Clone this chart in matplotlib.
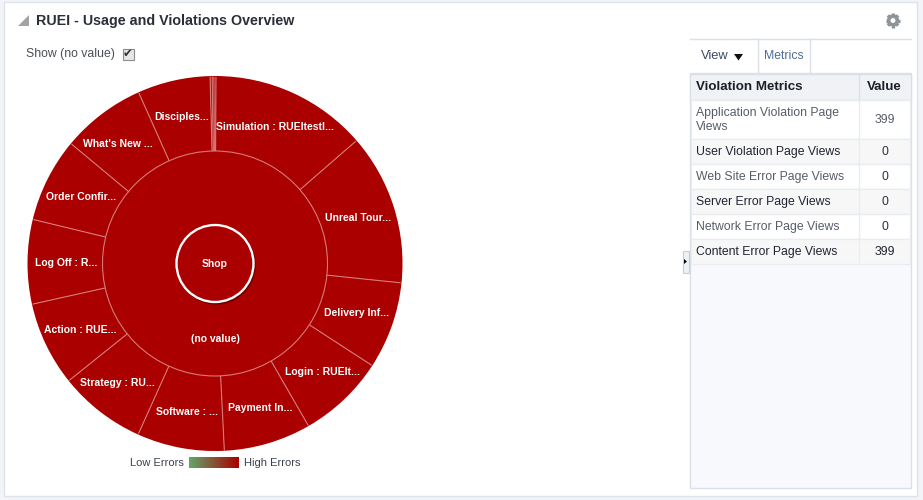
import numpy as np
import matplotlib
matplotlib.use("Agg")
import matplotlib.pyplot as plt
from matplotlib.patches import Rectangle, Polygon, Circle
from matplotlib.colors import LinearSegmentedColormap

plt.rcParams['font.family'] = ['Liberation Sans', 'DejaVu Sans']

# ---- data
pages = ["Simulation : RUEItestl...", "Unreal Tour...", "Delivery Inf...", "Login : RUEIt...",
         "Payment In...", "Software : ...", "Strategy : RU...", "Action : RUE...",
         "Log Off : R...", "Order Confir...", "What's New ...", "Disciples...", "", "", ""]
page_views = [54, 52, 30, 30, 30, 30, 30, 29, 29, 29, 29, 25, 0.7, 0.6, 0.7]
outer_total = "(no value)"
center_label = "Shop"
metric_names = ["Application Violation Page\nViews", "User Violation Page Views",
                "Web Site Error Page Views", "Server Error Page Views",
                "Network Error Page Views", "Content Error Page Views"]
metric_values = [399, 0, 0, 0, 0, 399]
metric_dark = [False, True, False, True, False, True]

# label nudges in pixels (layout only)
nudge_x = [-2, 0.5, 1.5, 5, 3, 0, -6.5, 0, 0, -1, -7, 0, 0, 0, 0]
nudge_y = [-1.5, -1, -1, 0, 1, 1, 1, 1, 0, 0, -1, -2, 0, 0, 0]

RED = "#aa0000"
LINE = "#d67a7a"
W, H = 923, 500
fig = plt.figure(figsize=(W / 100, H / 100), dpi=100, facecolor="#f2f4f7")

# ---- page frame and side panel, in pixel coordinates
ui = fig.add_axes([0, 0, 1, 1], zorder=1)
ui.set_xlim(0, W); ui.set_ylim(H, 0); ui.axis("off")
ui.add_patch(Rectangle((4, 2), 913, 494, fc="white", ec="#dde3ea", lw=1))
ui.add_patch(Rectangle((690, 73), 221, 415, fc="#f7f9fc", ec="#d9e0e8", lw=1))
ui.plot([690, 911], [38.5, 38.5], color="#d9e0e8", lw=1)
for x in (757.5, 809.5):
    ui.plot([x, x], [38.5, 73], color="#d9e0e8", lw=1)

ui.add_patch(Polygon([[18, 25.5], [29, 25.5], [29, 15]], fc="#a3a3a3", ec="none"))
ui.text(36, 20.5, "RUEI - Usage and Violations Overview", fontsize=10.3, fontweight="bold",
        color="#2b2f38", va="center", ha="left")
ui.text(26, 54.5, "Show (no value)", fontsize=8.8, color="#4a4f57", va="center", ha="left")
ui.add_patch(Rectangle((122.5, 48.5), 11, 11, fc="#e6e6e6", ec="#8c8c8c", lw=0.8))
ui.text(128, 54, "\u2714", fontsize=8.5, color="#333333", va="center", ha="center",
        family="DejaVu Sans")

# gear icon
gear_x, gear_y = 893, 20.5
for a in np.arange(0, 180, 45):
    dx, dy = 7.2 * np.cos(np.deg2rad(a)), 7.2 * np.sin(np.deg2rad(a))
    ui.plot([gear_x - dx, gear_x + dx], [gear_y - dy, gear_y + dy], color="#8f9499",
            lw=2.4, solid_capstyle="butt")
ui.add_patch(Circle((gear_x, gear_y), 4.3, fc="white", ec="#8f9499", lw=2.6, zorder=3))

ui.text(701, 56, "View", fontsize=9.3, color="#3c4a63", va="center", ha="left")
ui.add_patch(Polygon([[734, 54], [743, 54], [738.5, 60.5]], fc="#111111", ec="none"))
ui.text(764, 56, "Metrics", fontsize=8.8, color="#4f6b9a", va="center", ha="left")

# table
split = 858.5
ui.add_patch(Rectangle((690, 73.5), 221, 26, fc="#f0f2f6", ec="#d9e0e8", lw=1))
ui.plot([split, split], [73.5, 99.5], color="#d9e0e8", lw=1)
ui.text(696, 86.5, "Violation Metrics", fontsize=9.6, fontweight="bold", color="#1b1f27", va="center")
ui.text(884.5, 86.5, "Value", fontsize=9.6, fontweight="bold", color="#1b1f27", va="center", ha="center")
tops = [99.5, 138.5, 163.5, 188.5, 213.5, 238.5, 263.5]
for i, (nm, val, dark) in enumerate(zip(metric_names, metric_values, metric_dark)):
    t, b = tops[i], tops[i + 1]
    ui.add_patch(Rectangle((691, t), 219, b - t, fc="#f7f7f7" if dark else "white", ec="#e9edf1", lw=1))
    ui.plot([split, split], [t, b], color="#e9edf1", lw=1)
    c = "#1f2430" if dark else "#565d68"
    ui.text(696, (t + b) / 2 + 0.7, nm, fontsize=8.8, color=c, va="center", linespacing=1.2)
    ui.text(884.5, (t + b) / 2 + 0.7, str(val), fontsize=8.8, color="#2c3040" if val == 0 else c,
            va="center", ha="center")

# splitter handle
ui.add_patch(Rectangle((682.5, 250.5), 6.5, 22, fc="#eef1f5", ec="#c5ccd4", lw=0.8))
ui.add_patch(Polygon([[684, 259], [684, 264], [687, 261.5]], fc="black", ec="none"))

# legend
grad = LinearSegmentedColormap.from_list("err", ["#62a56a", RED])
ui.imshow(np.linspace(0, 1, 64)[None, :], cmap=grad, aspect="auto", extent=(189, 239, 468, 457.5), zorder=2)
ui.set_xlim(0, W); ui.set_ylim(H, 0)
ui.text(184, 462.5, "Low Errors", fontsize=8, color="#3c4150", va="center", ha="right")
ui.text(244, 462.5, "High Errors", fontsize=8, color="#3c4150", va="center", ha="left")

# ---- sunburst
cx, cy, R = 215, 263.5, 187.5
pie = fig.add_axes([(cx - R) / W, 1 - (cy + R) / H, 2 * R / W, 2 * R / H], zorder=2)
r_in, r_c = 112.5 / R, 38.5 / R
start = 89.7
pie.pie(page_views, radius=1, startangle=start, counterclock=False,
        colors=[RED], wedgeprops=dict(edgecolor="none"))
pie.set_xlim(-1, 1); pie.set_ylim(-1, 1); pie.axis("off")

edges = np.cumsum([0] + page_views) / sum(page_views) * 360
for a in edges[:-1]:
    th = np.deg2rad(start - a)
    pie.plot([r_in * np.cos(th), 0.995 * np.cos(th)], [r_in * np.sin(th), 0.995 * np.sin(th)],
             color=LINE, lw=0.8, solid_capstyle="butt")
pie.add_patch(Circle((0, 0), r_in, fc=RED, ec=LINE, lw=0.8))
pie.set_xlim(-1, 1); pie.set_ylim(-1, 1)

# centre disc with soft shadow
pie.add_patch(Circle((0.006, -0.008), r_c + 0.006, fc="#4a0000", ec="none", alpha=0.6))
pie.add_patch(Circle((0, 0), r_c, fc=RED, ec="white", lw=1.7))

lab = dict(fontsize=7.5, fontweight="bold", color="white", ha="center", va="center")
shift = -0.6 / R
for name, a, b, nx, ny in zip(pages, edges[:-1], edges[1:], nudge_x, nudge_y):
    if name:
        th = np.deg2rad(start - (a + b) / 2)
        r = 149 / R
        pie.text(r * np.cos(th) + nx / R, r * np.sin(th) + shift - ny / R, name, **lab)
pie.text(0, shift, center_label, **lab)
pie.text(0, -74.5 / R + shift, outer_total, **lab)

fig.savefig("out.png", dpi=100, facecolor=fig.get_facecolor())
